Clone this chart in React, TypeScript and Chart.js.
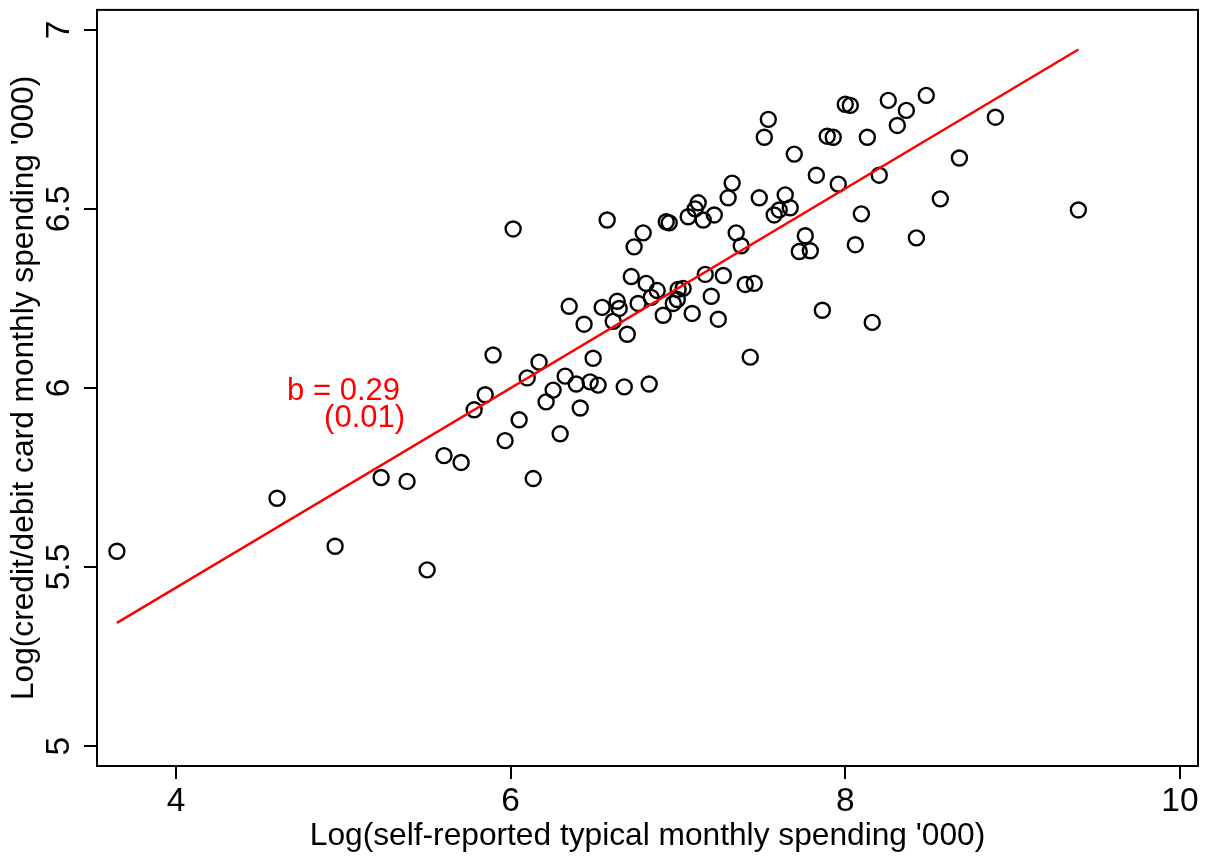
import React, { useEffect, useRef } from "react";
import { Chart, registerables } from "chart.js";

Chart.register(...registerables);

// Log(self-reported typical monthly spending '000)
const selfSpend = [
  3.647, 4.604, 4.951, 5.226, 5.381, 5.501, 5.602, 5.704, 5.782, 5.848,
  5.895, 5.967, 6.015, 6.051, 6.099, 6.135, 6.170, 6.212, 6.254, 6.296,
  6.326, 6.350, 6.392, 6.416, 6.439, 6.475, 6.493, 6.523, 6.547, 6.577,
  6.613, 6.637, 6.649, 6.679, 6.697, 6.721, 6.738, 6.762, 6.792, 6.810,
  6.828, 6.840, 6.876, 6.912, 6.930, 6.948, 6.972, 6.996, 7.001, 7.031,
  7.061, 7.085, 7.103, 7.121, 7.151, 7.163, 7.199, 7.217, 7.241, 7.271,
  7.300, 7.324, 7.348, 7.378, 7.402, 7.432, 7.456, 7.486, 7.516, 7.540,
  7.575, 7.605, 7.641, 7.671, 7.695, 7.725, 7.761, 7.791, 7.827, 7.863,
  7.892, 7.928, 7.958, 8.000, 8.030, 8.060, 8.096, 8.132, 8.161, 8.203,
  8.257, 8.311, 8.365, 8.425, 8.484, 8.568, 8.682, 8.897, 9.393,
];

// Log(credit/debit card monthly spending '000)
const cardSpend = [
  5.544, 5.692, 5.558, 5.750, 5.739, 5.492, 5.811, 5.792, 5.939, 5.981,
  6.092, 5.853, 6.444, 5.911, 6.028, 5.747, 6.072, 5.961, 5.994, 5.872,
  6.033, 6.228, 6.011, 5.944, 6.178, 6.017, 6.083, 6.008, 6.225, 6.469,
  6.186, 6.242, 6.222, 6.003, 6.150, 6.311, 6.394, 6.236, 6.433, 6.292,
  6.011, 6.253, 6.272, 6.203, 6.464, 6.461, 6.236, 6.247, 6.275, 6.278,
  6.478, 6.208, 6.500, 6.517, 6.469, 6.317, 6.256, 6.483, 6.192, 6.314,
  6.531, 6.572, 6.433, 6.397, 6.289, 6.086, 6.292, 6.531, 6.700, 6.750,
  6.483, 6.497, 6.539, 6.503, 6.653, 6.381, 6.425, 6.383, 6.594, 6.217,
  6.703, 6.700, 6.569, 6.792, 6.789, 6.400, 6.486, 6.700, 6.183, 6.594,
  6.803, 6.733, 6.775, 6.419, 6.817, 6.528, 6.642, 6.756, 6.497,
];

// fitted regression line end points
const fitX = [3.647, 9.393];
const fitY = [5.344, 6.945];

const xTickValues = [4, 6, 8, 10];
const yTickValues = [5, 5.5, 6, 6.5, 7];
const yTickLabels = ["5", "5.5", "6", "6.5", "7"];

const xTitle = "Log(self-reported typical monthly spending '000)";
const yTitle = "Log(credit/debit card monthly spending '000)";
const coefLabel = "b = 0.29";
const seLabel = "(0.01)";

const FONT = '"Liberation Sans", Arial, Helvetica, sans-serif';
const TICK_SIZE = 33.5;
const TITLE_SIZE = 31.7;
const NOTE_SIZE = 31;

const decor = {
  id: "decor",
  afterDraw(chart: any) {
    const { ctx, chartArea: a, scales } = chart;
    const x = scales.x;
    const y = scales.y;
    ctx.save();
    ctx.strokeStyle = "#000";
    ctx.lineWidth = 2;
    ctx.strokeRect(a.left, a.top, a.right - a.left, a.bottom - a.top);

    ctx.fillStyle = "#000";
    ctx.font = `${TICK_SIZE}px ${FONT}`;
    ctx.textAlign = "center";
    ctx.textBaseline = "middle";
    yTickValues.forEach((v, i) => {
      const py = y.getPixelForValue(v);
      ctx.save();
      ctx.translate(a.left - 37, py);
      ctx.rotate(-Math.PI / 2);
      ctx.fillText(yTickLabels[i], 0, 0);
      ctx.restore();
    });

    ctx.fillStyle = "#ff0000";
    ctx.font = `${NOTE_SIZE}px ${FONT}`;
    ctx.textAlign = "right";
    ctx.textBaseline = "alphabetic";
    ctx.fillText(coefLabel, x.getPixelForValue(5.339), y.getPixelForValue(5.967));
    ctx.fillText(seLabel, x.getPixelForValue(5.369), y.getPixelForValue(5.89));
    ctx.restore();
  },
};

export default function App() {
  const ref = useRef<HTMLCanvasElement>(null);

  useEffect(() => {
    if (!ref.current) return;
    const points = selfSpend.map((v, i) => ({ x: v, y: cardSpend[i] }));
    const line = fitX.map((v, i) => ({ x: v, y: fitY[i] }));
    const chart = new Chart(ref.current, {
      type: "scatter",
      data: {
        datasets: [
          {
            type: "line",
            data: line,
            borderColor: "#ff0000",
            borderWidth: 2.5,
            pointRadius: 0,
            fill: false,
            order: 0,
          } as any,
          {
            data: points,
            pointRadius: 7.5,
            pointBorderWidth: 2.4,
            pointBorderColor: "#000",
            pointBackgroundColor: "rgba(0,0,0,0)",
            borderColor: "#000",
            backgroundColor: "rgba(0,0,0,0)",
            order: 1,
          },
        ],
      },
      options: {
        responsive: false,
        animation: false,
        devicePixelRatio: 1,
        layout: { padding: { left: 0, top: 6, right: 11, bottom: 0 } },
        plugins: { legend: { display: false }, tooltip: { enabled: false } },
        scales: {
          x: {
            type: "linear",
            min: 3.528,
            max: 10.108,
            afterBuildTicks: (axis: any) => {
              axis.ticks = xTickValues.map((v) => ({ value: v }));
            },
            afterFit: (scale: any) => {
              scale.height = 93;
            },
            ticks: {
              color: "#000",
              font: { family: FONT, size: TICK_SIZE },
              padding: 3,
              maxRotation: 0,
              autoSkip: false,
              callback: (v: any) => String(v),
            },
            grid: {
              drawOnChartArea: false,
              drawTicks: true,
              tickLength: 13,
              color: "#000",
              lineWidth: 2,
            },
            border: { display: true, color: "#000", width: 2 },
            title: {
              display: true,
              text: xTitle,
              color: "#000",
              font: { family: FONT, size: TITLE_SIZE },
              padding: { top: 0, bottom: 4 },
            },
          },
          y: {
            type: "linear",
            min: 4.9444,
            max: 7.0556,
            afterBuildTicks: (axis: any) => {
              axis.ticks = yTickValues.map((v) => ({ value: v }));
            },
            afterFit: (scale: any) => {
              scale.width = 97;
            },
            ticks: { display: false },
            grid: {
              drawOnChartArea: false,
              drawTicks: true,
              tickLength: 13,
              color: "#000",
              lineWidth: 2,
            },
            border: { display: true, color: "#000", width: 2 },
            title: {
              display: true,
              text: yTitle,
              color: "#000",
              font: { family: FONT, size: TITLE_SIZE },
              padding: { top: 5, bottom: 0 },
            },
          },
        },
      },
      plugins: [decor],
    });
    return () => chart.destroy();
  }, []);

  return (
    <div style={{ position: "absolute", left: 0, top: 0, width: 1209, height: 859, background: "#fff" }}>
      <canvas ref={ref} width={1209} height={859} style={{ display: "block" }} />
    </div>
  );
}
